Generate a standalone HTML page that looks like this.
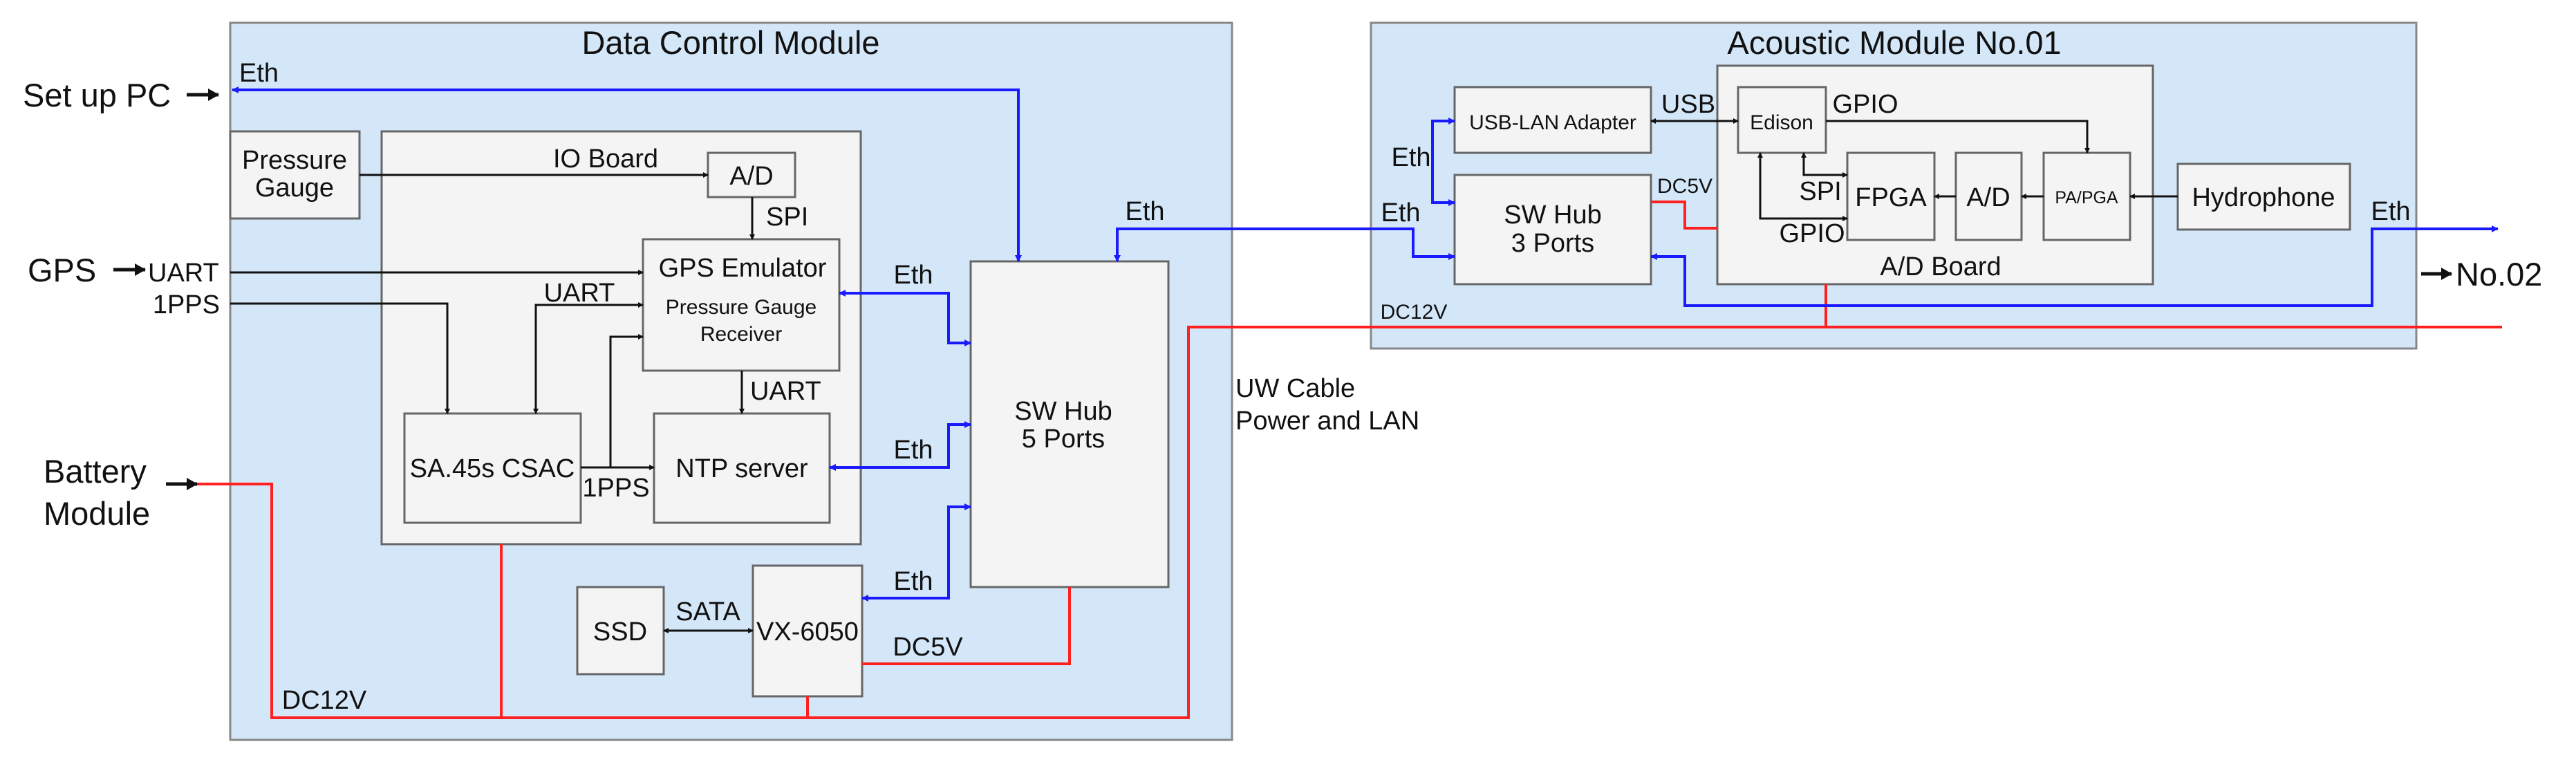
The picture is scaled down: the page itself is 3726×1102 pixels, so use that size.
<!DOCTYPE html>
<html><head><meta charset="utf-8"><style>html,body{margin:0;padding:0;background:#fff}svg{display:block}</style></head>
<body>
<svg width="3726" height="1102" viewBox="0 0 3726 1102" xmlns="http://www.w3.org/2000/svg" font-family="Liberation Sans, Arial, sans-serif" fill="#111">
<defs>
<marker id="ak" markerWidth="8" markerHeight="8" refX="7" refY="4" orient="auto" markerUnits="userSpaceOnUse"><path d="M0,0 L8,4 L0,8 z" fill="#111"/></marker>
<marker id="akb" markerWidth="16" markerHeight="18" refX="15" refY="9" orient="auto" markerUnits="userSpaceOnUse"><path d="M0,0 L16,9 L0,18 z" fill="#111"/></marker>
<marker id="aks" markerWidth="8" markerHeight="8" refX="1" refY="4" orient="auto" markerUnits="userSpaceOnUse"><path d="M8,0 L0,4 L8,8 z" fill="#111"/></marker>
<marker id="ab" markerWidth="10" markerHeight="10" refX="9" refY="5" orient="auto" markerUnits="userSpaceOnUse"><path d="M0,0 L10,5 L0,10 z" fill="#1a1aff"/></marker>
<marker id="abs" markerWidth="10" markerHeight="10" refX="1" refY="5" orient="auto" markerUnits="userSpaceOnUse"><path d="M10,0 L0,5 L10,10 z" fill="#1a1aff"/></marker>
</defs>

<rect x="333" y="33" width="1449" height="1037" fill="#d4e7f9" stroke="#888" stroke-width="3"/>
<rect x="1983" y="33" width="1512" height="471" fill="#d4e7f9" stroke="#888" stroke-width="3"/>
<text x="1057" y="78" font-size="47" text-anchor="middle">Data Control Module</text>
<text x="2740" y="78" font-size="47" text-anchor="middle">Acoustic Module No.01</text>

<g fill="#f4f4f4" stroke="#666" stroke-width="3">
<rect x="333" y="190" width="187" height="126"/>
<rect x="552" y="190" width="693" height="597"/>
<rect x="1024" y="221" width="126" height="64"/>
<rect x="930" y="346" width="284" height="190"/>
<rect x="585" y="598" width="255" height="158"/>
<rect x="946" y="598" width="254" height="158"/>
<rect x="1404" y="378" width="286" height="471"/>
<rect x="1089" y="818" width="158" height="189"/>
<rect x="835" y="849" width="125" height="126"/>
<rect x="2104" y="126" width="284" height="95"/>
<rect x="2104" y="253" width="284" height="158"/>
<rect x="2484" y="95" width="630" height="316"/>
<rect x="2514" y="126" width="127" height="95"/>
<rect x="2672" y="221" width="126" height="126"/>
<rect x="2829" y="221" width="95" height="126"/>
<rect x="2956" y="221" width="125" height="126"/>
<rect x="3150" y="237" width="249" height="95"/>
</g>

<g fill="none" stroke="#ff2020" stroke-width="4">
<polyline points="285,700 393,700 393,1038 1719,1038 1719,473 3619,473"/>
<line x1="725" y1="787" x2="725" y2="1038"/>
<line x1="1168" y1="1007" x2="1168" y2="1038"/>
<polyline points="1247,960 1547,960 1547,849"/>
<line x1="2641" y1="411" x2="2641" y2="473"/>
<polyline points="2388,292 2437,292 2437,330 2484,330"/>
</g>

<g fill="none" stroke="#1a1aff" stroke-width="4">
<polyline points="1473,378 1473,130 336,130" marker-end="url(#ab)" marker-start="url(#abs)"/>
<polyline points="1214,424 1372,424 1372,496 1404,496" marker-start="url(#abs)" marker-end="url(#ab)"/>
<polyline points="1200,676 1372,676 1372,614 1404,614" marker-start="url(#abs)" marker-end="url(#ab)"/>
<polyline points="1247,865 1372,865 1372,733 1404,733" marker-start="url(#abs)" marker-end="url(#ab)"/>
<polyline points="1616,378 1616,331 2044,331 2044,371 2104,371" marker-start="url(#abs)" marker-end="url(#ab)"/>
<polyline points="2104,175 2072,175 2072,293 2104,293" marker-start="url(#abs)" marker-end="url(#ab)"/>
<polyline points="2388,371 2437,371 2437,442 3431,442 3431,331 3613,331" marker-start="url(#abs)" marker-end="url(#ab)"/>
</g>

<g fill="none" stroke="#111" stroke-width="3">
<line x1="520" y1="253" x2="1024" y2="253" marker-end="url(#ak)"/>
<line x1="1088" y1="285" x2="1088" y2="346" marker-end="url(#ak)"/>
<line x1="333" y1="394" x2="930" y2="394" marker-end="url(#ak)"/>
<polyline points="333,439 647,439 647,598" marker-end="url(#ak)"/>
<polyline points="775,598 775,441 930,441" marker-start="url(#aks)" marker-end="url(#ak)"/>
<polyline points="883,676 883,487 930,487" marker-end="url(#ak)"/>
<line x1="840" y1="676" x2="946" y2="676" marker-end="url(#ak)"/>
<line x1="1073" y1="536" x2="1073" y2="598" marker-end="url(#ak)"/>
<line x1="960" y1="912" x2="1089" y2="912" marker-start="url(#aks)" marker-end="url(#ak)"/>
<line x1="2388" y1="175" x2="2514" y2="175" marker-start="url(#aks)" marker-end="url(#ak)"/>
<polyline points="2641,175 3019,175 3019,221" marker-end="url(#ak)"/>
<line x1="3150" y1="284" x2="3081" y2="284" marker-end="url(#ak)"/>
<line x1="2956" y1="284" x2="2924" y2="284" marker-end="url(#ak)"/>
<line x1="2829" y1="284" x2="2798" y2="284" marker-end="url(#ak)"/>
<polyline points="2609,221 2609,253 2672,253" marker-start="url(#aks)" marker-end="url(#ak)"/>
<polyline points="2546,221 2546,316 2672,316" marker-start="url(#aks)" marker-end="url(#ak)"/>
<line x1="240" y1="700" x2="285" y2="700" marker-end="url(#akb)" stroke-width="5"/>
<line x1="270" y1="137" x2="316" y2="137" marker-end="url(#akb)" stroke-width="5"/>
<line x1="164" y1="390" x2="210" y2="390" marker-end="url(#akb)" stroke-width="5"/>
<line x1="3502" y1="396" x2="3546" y2="396" marker-end="url(#akb)" stroke-width="5"/>
</g>

<g font-size="47">
<text x="33" y="154">Set up PC</text>
<text x="40" y="407">GPS</text>
<text x="63" y="698">Battery</text>
<text x="63" y="759">Module</text>
<text x="3552" y="413">No.02</text>
</g>
<g font-size="38">
<text x="346" y="118">Eth</text>
<text x="426" y="244" text-anchor="middle">Pressure</text>
<text x="426" y="284" text-anchor="middle">Gauge</text>
<text x="876" y="242" text-anchor="middle">IO Board</text>
<text x="1087" y="267" text-anchor="middle">A/D</text>
<text x="1108" y="326">SPI</text>
<text x="214" y="407">UART</text>
<text x="318" y="453" text-anchor="end">1PPS</text>
<text x="1074" y="400" text-anchor="middle">GPS Emulator</text>
<text x="838" y="436" text-anchor="middle">UART</text>
<text x="1085" y="578">UART</text>
<text x="712" y="690" text-anchor="middle">SA.45s CSAC</text>
<text x="1073" y="690" text-anchor="middle">NTP server</text>
<text x="891" y="718" text-anchor="middle">1PPS</text>
<text x="1321" y="410" text-anchor="middle">Eth</text>
<text x="1321" y="663" text-anchor="middle">Eth</text>
<text x="1321" y="853" text-anchor="middle">Eth</text>
<text x="1656" y="318" text-anchor="middle">Eth</text>
<text x="1538" y="607" text-anchor="middle">SW Hub</text>
<text x="1538" y="647" text-anchor="middle">5 Ports</text>
<text x="1024" y="897" text-anchor="middle">SATA</text>
<text x="897" y="926" text-anchor="middle">SSD</text>
<text x="1168" y="926" text-anchor="middle">VX-6050</text>
<text x="1342" y="948" text-anchor="middle">DC5V</text>
<text x="469" y="1025" text-anchor="middle">DC12V</text>
<text x="1787" y="574">UW Cable</text>
<text x="1787" y="621">Power and LAN</text>
<text x="2041" y="240" text-anchor="middle">Eth</text>
<text x="2026" y="320" text-anchor="middle">Eth</text>
<text x="2442" y="163" text-anchor="middle">USB</text>
<text x="2698" y="163" text-anchor="middle">GPIO</text>
<text x="2246" y="323" text-anchor="middle">SW Hub</text>
<text x="2246" y="364" text-anchor="middle">3 Ports</text>
<text x="2735" y="298" text-anchor="middle">FPGA</text>
<text x="2876" y="298" text-anchor="middle">A/D</text>
<text x="3274" y="298" text-anchor="middle">Hydrophone</text>
<text x="2633" y="289" text-anchor="middle">SPI</text>
<text x="2621" y="350" text-anchor="middle">GPIO</text>
<text x="2807" y="398" text-anchor="middle">A/D Board</text>
<text x="3458" y="318" text-anchor="middle">Eth</text>
</g>
<g font-size="30">
<text x="1072" y="454" text-anchor="middle">Pressure Gauge</text>
<text x="1072" y="493" text-anchor="middle">Receiver</text>
<text x="2246" y="187" text-anchor="middle">USB-LAN Adapter</text>
<text x="2577" y="187" text-anchor="middle">Edison</text>
<text x="3018" y="294" text-anchor="middle" font-size="25">PA/PGA</text>
<text x="2437" y="279" text-anchor="middle">DC5V</text>
<text x="2045" y="461" text-anchor="middle">DC12V</text>
</g>
</svg>
</body></html>
